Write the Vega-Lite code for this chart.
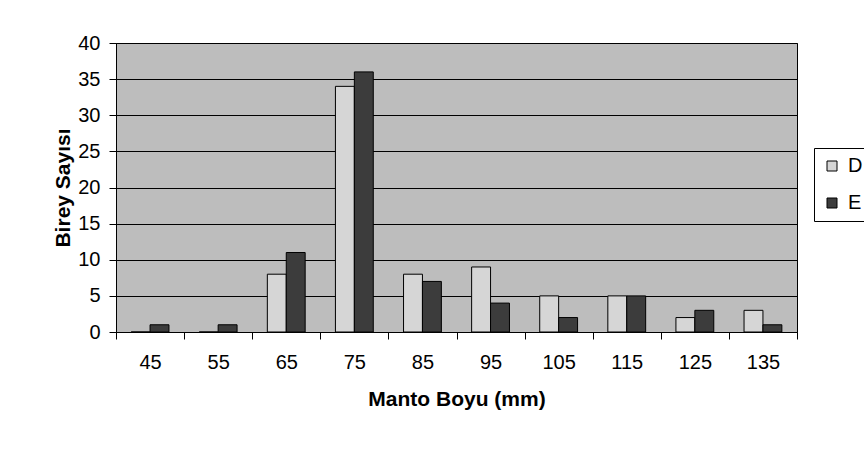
{
  "$schema": "https://vega.github.io/schema/vega-lite/v6.json",
  "width": 681,
  "height": 289,
  "autosize": {"type": "none"},
  "padding": {"left": 116, "top": 43, "right": 67, "bottom": 118},
  "background": "white",
  "data": {
    "values": [
      {"boy": 45, "seri": "D", "sayi": 0}, {"boy": 45, "seri": "E", "sayi": 1},
      {"boy": 55, "seri": "D", "sayi": 0}, {"boy": 55, "seri": "E", "sayi": 1},
      {"boy": 65, "seri": "D", "sayi": 8}, {"boy": 65, "seri": "E", "sayi": 11},
      {"boy": 75, "seri": "D", "sayi": 34}, {"boy": 75, "seri": "E", "sayi": 36},
      {"boy": 85, "seri": "D", "sayi": 8}, {"boy": 85, "seri": "E", "sayi": 7},
      {"boy": 95, "seri": "D", "sayi": 9}, {"boy": 95, "seri": "E", "sayi": 4},
      {"boy": 105, "seri": "D", "sayi": 5}, {"boy": 105, "seri": "E", "sayi": 2},
      {"boy": 115, "seri": "D", "sayi": 5}, {"boy": 115, "seri": "E", "sayi": 5},
      {"boy": 125, "seri": "D", "sayi": 2}, {"boy": 125, "seri": "E", "sayi": 3},
      {"boy": 135, "seri": "D", "sayi": 3}, {"boy": 135, "seri": "E", "sayi": 1}
    ]
  },
  "mark": {"type": "bar", "stroke": "black", "strokeWidth": 1},
  "encoding": {
    "x": {
      "field": "boy",
      "type": "ordinal",
      "scale": {"paddingInner": 0, "paddingOuter": 0},
      "axis": {
        "title": "Manto Boyu (mm)",
        "labelAngle": 0,
        "tickBand": "extent",
        "tickSize": 7,
        "labelPadding": 13,
        "titlePadding": 16
      }
    },
    "xOffset": {
      "field": "seri",
      "type": "nominal",
      "scale": {"paddingInner": 0, "paddingOuter": 0.8}
    },
    "y": {
      "field": "sayi",
      "type": "quantitative",
      "scale": {"domain": [0, 40], "nice": false},
      "axis": {
        "title": "Birey Sayısı",
        "values": [0, 5, 10, 15, 20, 25, 30, 35, 40],
        "grid": true,
        "gridColor": "black",
        "gridWidth": 1,
        "gridOpacity": 1,
        "tickSize": 7,
        "labelPadding": 9,
        "titlePadding": 4
      }
    },
    "color": {
      "field": "seri",
      "type": "nominal",
      "scale": {"domain": ["D", "E"], "range": ["#d6d6d6", "#3c3c3c"]},
      "legend": {
        "title": null,
        "orient": "none",
        "legendX": 698,
        "legendY": 105,
        "strokeColor": "black",
        "fillColor": "white",
        "padding": 8,
        "rowPadding": 17,
        "symbolType": "square",
        "symbolSize": 100,
        "symbolStrokeColor": "black",
        "symbolStrokeWidth": 1,
        "labelFontSize": 20,
        "labelFont": "Liberation Sans",
        "labelColor": "black",
        "labelOffset": 6
      }
    }
  },
  "config": {
    "view": {"fill": "#bdbdbd", "stroke": "black", "strokeWidth": 1},
    "axis": {
      "domainColor": "black",
      "tickColor": "black",
      "labelColor": "black",
      "titleColor": "black",
      "labelFont": "Liberation Sans",
      "titleFont": "Liberation Sans",
      "labelFontSize": 20,
      "titleFontSize": 21,
      "titleFontWeight": "bold"
    }
  }
}
